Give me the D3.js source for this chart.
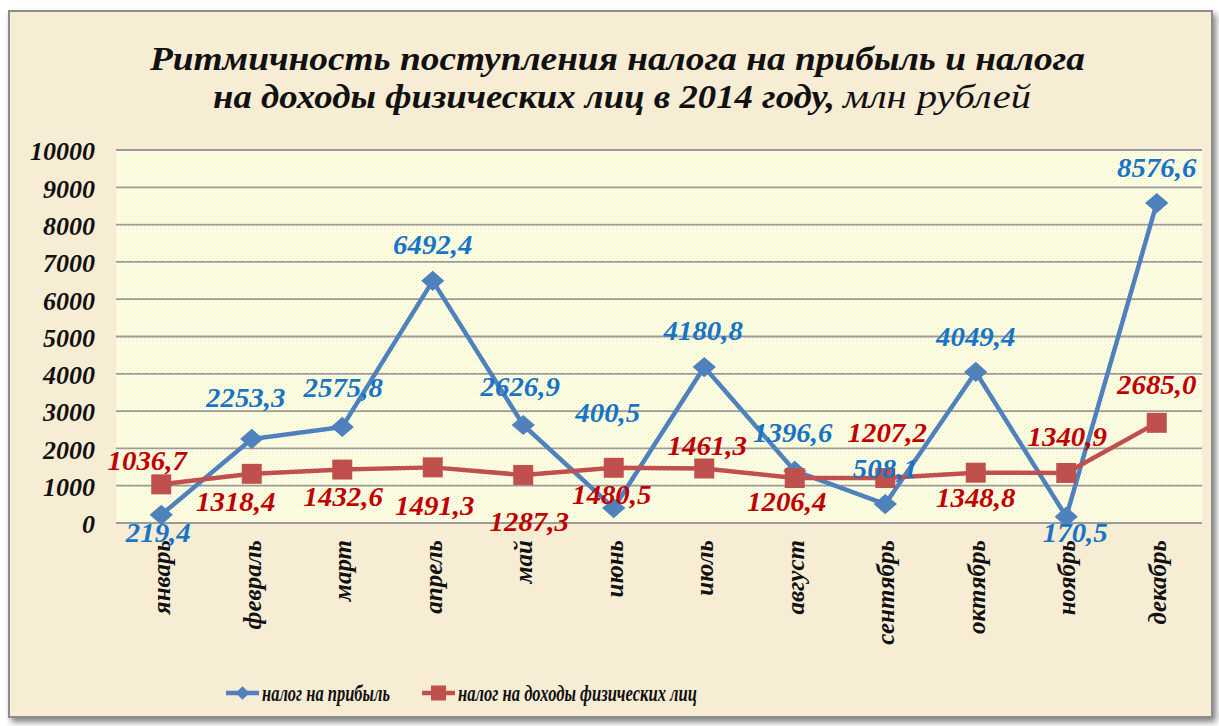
<!DOCTYPE html>
<html lang="ru">
<head>
    <meta charset="UTF-8">
    <title>Ритмичность поступления налога</title>
    <script src="https://d3js.org/d3.v7.min.js"></script>
    <style>
        body {
            margin: 0;
            background: white;
        }
        svg text {
            font-family: 'Liberation Serif', 'DejaVu Serif', serif;
            font-style: italic;
            font-weight: bold;
        }
    </style>
</head>
<body>
    <svg width="1219" height="726"></svg>

    <script>
        // данные
        const months = ["январь", "февраль", "март", "апрель", "май", "июнь",
            "июль", "август", "сентябрь", "октябрь", "ноябрь", "декабрь"];
        const profitTax = [219.4, 2253.3, 2575.8, 6492.4, 2626.9, 400.5,
            4180.8, 1396.6, 508.1, 4049.4, 170.5, 8576.6];
        const incomeTax = [1036.7, 1318.4, 1432.6, 1491.3, 1287.3, 1480.5,
            1461.3, 1206.4, 1207.2, 1348.8, 1340.9, 2685.0];
        const yTicks = [0, 1000, 2000, 3000, 4000, 5000, 6000, 7000, 8000, 9000, 10000];

        // смещения подписей данных (центр подписи относительно точки)
        const profitLabelOffset = [[-3, 18], [-6, -41], [1, -39], [0, -36], [-3, -38], [-6, -96],
            [-1, -37], [-2, -38], [0, -36], [0, -35], [9, 16], [0, -36]];
        const incomeLabelOffset = [[-14, -24], [-16, 28], [1, 27], [2, 38], [6, 47], [-2, 27],
            [3, -23], [-8, 24], [2, -45], [0, 25], [1, -36], [0, -38]];

        const svg = d3.select("svg");
        const defs = svg.append("defs");

        const shadow = defs.append("filter").attr("id", "shadow")
            .attr("x", "-5%").attr("y", "-5%").attr("width", "110%").attr("height", "110%");
        shadow.append("feDropShadow").attr("dx", 3).attr("dy", 4)
            .attr("stdDeviation", 3).attr("flood-color", "#000").attr("flood-opacity", 0.5);

        const dots = defs.append("pattern").attr("id", "dots")
            .attr("patternUnits", "userSpaceOnUse").attr("width", 4).attr("height", 4);
        dots.append("rect").attr("width", 4).attr("height", 4).attr("fill", "#fffff0");
        dots.append("rect").attr("x", 0).attr("y", 0).attr("width", 1).attr("height", 1).attr("fill", "#f3ec7a");
        dots.append("rect").attr("x", 2).attr("y", 2).attr("width", 1).attr("height", 1).attr("fill", "#f3ec7a");

        // рамка
        svg.append("rect")
            .attr("x", 9).attr("y", 11).attr("width", 1203).attr("height", 706)
            .attr("fill", "#f7ecd4")
            .attr("stroke", "#8c8c8c").attr("stroke-width", 2)
            .attr("filter", "url(#shadow)");

        // заголовок
        svg.append("text")
            .attr("x", 150).attr("y", 70)
            .attr("font-size", 33)
            .attr("fill", "#111")
            .attr("textLength", 935).attr("lengthAdjust", "spacingAndGlyphs")
            .text("Ритмичность поступления налога на прибыль и налога");

        const t2 = svg.append("text")
            .attr("y", 108)
            .attr("font-size", 33)
            .attr("fill", "#111");
        t2.append("tspan").attr("x", 213)
            .attr("textLength", 622).attr("lengthAdjust", "spacingAndGlyphs")
            .text("на доходы физических лиц в 2014 году,");
        t2.append("tspan").attr("x", 843).attr("font-weight", "normal")
            .attr("textLength", 188).attr("lengthAdjust", "spacingAndGlyphs")
            .text("млн рублей");

        const margin = {top: 150, left: 116},
            width = 1086,
            height = 373;
        const g = svg.append("g").attr("transform", `translate(${margin.left},${margin.top})`);

        const x = d3.scaleBand().domain(months).range([0, width]);
        const y = d3.scaleLinear().domain([0, 10000]).range([height, 0]);
        const cx = m => x(m) + x.bandwidth() / 2;

        g.append("rect").attr("width", width).attr("height", height).attr("fill", "url(#dots)");

        // сетка
        g.selectAll(".grid").data(yTicks).join("line")
            .attr("x1", 0).attr("x2", width)
            .attr("y1", d => y(d)).attr("y2", d => y(d))
            .attr("stroke", "#9a9a9a").attr("stroke-width", 1.8);

        // ось Y
        g.append("g")
            .call(d3.axisLeft(y).tickValues(yTicks).tickSize(0).tickPadding(21).tickFormat(d3.format("d")))
            .call(a => a.select(".domain").remove())
            .call(a => a.selectAll("text")
                .attr("font-size", 26)
                .attr("fill", "#111")
                .attr("dy", "0.38em"));

        // ось X
        g.append("g")
            .attr("transform", `translate(0,${height})`)
            .selectAll("text").data(months).join("text")
            .attr("transform", d => `translate(${cx(d) + 9},17) rotate(-90)`)
            .attr("text-anchor", "end")
            .attr("font-size", 25)
            .attr("fill", "#111")
            .text(d => d);

        const fmt = v => d3.format(".1f")(v).replace(".", ",");

        const series = [
            {values: profitTax, color: "#4f81bd", label: "#1874c4", offsets: profitLabelOffset, marker: "diamond"},
            {values: incomeTax, color: "#c0504d", label: "#c00000", offsets: incomeLabelOffset, marker: "square"}
        ];

        const diamond = d3.symbol().type(d3.symbolDiamond2).size(260);

        series.forEach(s => {
            const pts = s.values.map((v, i) => ({m: months[i], v}));
            g.append("path")
                .datum(pts)
                .attr("fill", "none")
                .attr("stroke", s.color)
                .attr("stroke-width", 4.5)
                .attr("stroke-linejoin", "round")
                .attr("d", d3.line().x(d => cx(d.m)).y(d => y(d.v)));

            if (s.marker === "diamond") {
                g.selectAll(null).data(pts).join("path")
                    .attr("d", diamond)
                    .attr("transform", d => `translate(${cx(d.m)},${y(d.v)}) scale(1.15,1)`)
                    .attr("fill", s.color);
            } else {
                g.selectAll(null).data(pts).join("rect")
                    .attr("x", d => cx(d.m) - 10).attr("y", d => y(d.v) - 10)
                    .attr("width", 20).attr("height", 20)
                    .attr("fill", s.color);
            }
            s.pts = pts;
        });

        series.forEach(s => {
            g.selectAll(null).data(s.pts).join("text")
                .attr("transform", (d, i) =>
                    `translate(${cx(d.m) + s.offsets[i][0]},${y(d.v) + s.offsets[i][1]}) scale(1.07,1)`)
                .attr("dy", "0.35em")
                .attr("text-anchor", "middle")
                .attr("font-size", 27)
                .attr("fill", s.label)
                .text(d => fmt(d.v));
        });

        // легенда
        const legendItems = [
            {name: "налог на прибыль", color: "#4f81bd", marker: "diamond", x: 226, w: 128},
            {name: "налог на доходы физических лиц", color: "#c0504d", marker: "square", x: 422, w: 239}
        ];
        const legend = svg.append("g").attr("transform", "translate(0,693)");
        legendItems.forEach(it => {
            legend.append("line")
                .attr("x1", it.x).attr("x2", it.x + 33)
                .attr("stroke", it.color).attr("stroke-width", 4.5);
            if (it.marker === "diamond") {
                legend.append("path")
                    .attr("d", d3.symbol().type(d3.symbolDiamond2).size(120))
                    .attr("transform", `translate(${it.x + 16.5},0)`)
                    .attr("fill", it.color);
            } else {
                legend.append("rect")
                    .attr("x", it.x + 9).attr("y", -7.5).attr("width", 15).attr("height", 15)
                    .attr("fill", it.color);
            }
            legend.append("text")
                .attr("x", it.x + 36).attr("dy", "0.35em")
                .attr("font-size", 24)
                .attr("fill", "#111")
                .attr("textLength", it.w).attr("lengthAdjust", "spacingAndGlyphs")
                .text(it.name);
        });
    </script>
</body>
</html>
